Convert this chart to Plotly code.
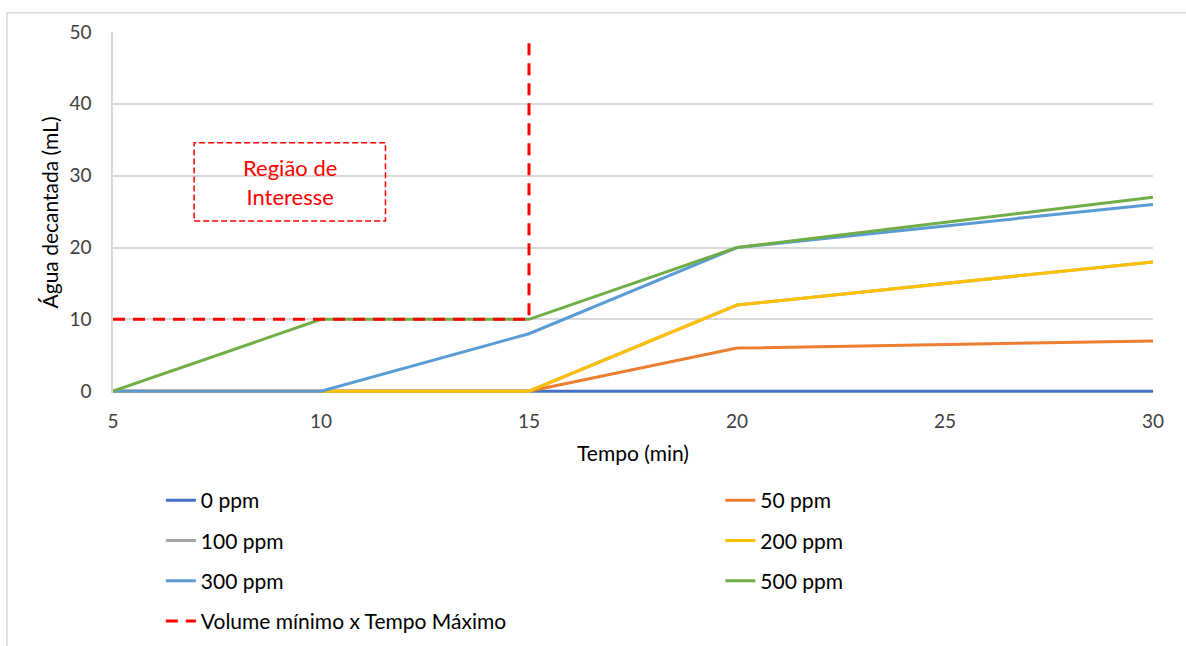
import plotly.graph_objects as go

# Sampling times (min)
tempo = [5, 10, 15, 20, 30]

# Decanted water (mL) per polymer concentration
agua_0ppm = [0, 0, 0, 0, 0]
agua_50ppm = [0, 0, 0, 6, 7]
agua_100ppm = [0, 0, 0, 12, 18]
agua_200ppm = [0, 0, 0, 12, 18]
agua_300ppm = [0, 0, 8, 20, 26]
agua_500ppm = [0, 10, 10, 20, 27]

# Minimum volume x maximum time criterion
limite_tempo = [5, 15, 15]
limite_volume = [10, 10, 49]

series = [
    ("0 ppm", agua_0ppm, "#4472C4", "legend"),
    ("50 ppm", agua_50ppm, "#ED7D31", "legend2"),
    ("100 ppm", agua_100ppm, "#A5A5A5", "legend"),
    ("200 ppm", agua_200ppm, "#FFC000", "legend2"),
    ("300 ppm", agua_300ppm, "#5B9BD5", "legend"),
    ("500 ppm", agua_500ppm, "#70AD47", "legend2"),
]

FONT = "Lato"

fig = go.Figure()
for nome, valores, cor, leg in series:
    fig.add_trace(go.Scatter(
        x=tempo, y=valores, name=nome, mode="lines",
        line=dict(color=cor, width=3),
        legend=leg, legendgroup=nome,
    ))

fig.add_trace(go.Scatter(
    x=limite_tempo, y=limite_volume, name="Volume mínimo x Tempo Máximo",
    mode="lines", line=dict(color="#FF0000", width=3, dash="12px,8px"),
    legend="legend", legendgroup="limite",
))

# Highlighted region box with its label
fig.add_shape(
    type="rect", xref="x", yref="y", x0=6.95, x1=11.55, y0=23.7, y1=34.6,
    line=dict(color="#FF0000", width=1.5, dash="6px,3px"), fillcolor="rgba(0,0,0,0)",
)
fig.add_annotation(
    x=9.25, y=29.1, xref="x", yref="y", text="Região de<br>Interesse",
    showarrow=False, font=dict(family=FONT, size=22, color="#FF0000"),
)

# Chart frame
fig.add_shape(
    type="rect", xref="paper", yref="paper", x0=-0.102, x1=1.05, y0=-0.75, y1=1.053,
    line=dict(color="#D9D9D9", width=1.5), layer="below",
)

fig.update_layout(
    width=1186, height=646,
    margin=dict(l=113, r=33, t=32, b=253, autoexpand=False),
    paper_bgcolor="white", plot_bgcolor="white",
    font=dict(family=FONT, size=19, color="#404040"),
    xaxis=dict(
        range=[5, 30], tickvals=[5, 10, 15, 20, 25, 30], showgrid=False,
        zeroline=False, showline=False, ticks="", ticklabelstandoff=15,
        tickfont=dict(size=19, color="#404040"),
        title=dict(text="Tempo (min)", font=dict(size=21, color="#000000"), standoff=15),
    ),
    yaxis=dict(
        range=[-0.25, 50], tickvals=[0, 10, 20, 30, 40, 50],
        showgrid=True, gridcolor="#D9D9D9", gridwidth=1.5,
        zeroline=False, showline=True, linecolor="#D9D9D9", linewidth=1.5, ticks="",
        ticklabelstandoff=16,
        tickfont=dict(size=19, color="#404040"),
        title=dict(text="Água decantada (mL)", font=dict(size=21, color="#000000"), standoff=5),
    ),
    legend=dict(
        x=0.046, y=-0.241, xanchor="left", yanchor="top", orientation="v",
        tracegroupgap=10, font=dict(size=21, color="#000000"), bgcolor="rgba(0,0,0,0)",
    ),
    legend2=dict(
        x=0.584, y=-0.241, xanchor="left", yanchor="top", orientation="v",
        tracegroupgap=10, font=dict(size=21, color="#000000"), bgcolor="rgba(0,0,0,0)",
    ),
    showlegend=True,
)

fig.write_html("out.html")
